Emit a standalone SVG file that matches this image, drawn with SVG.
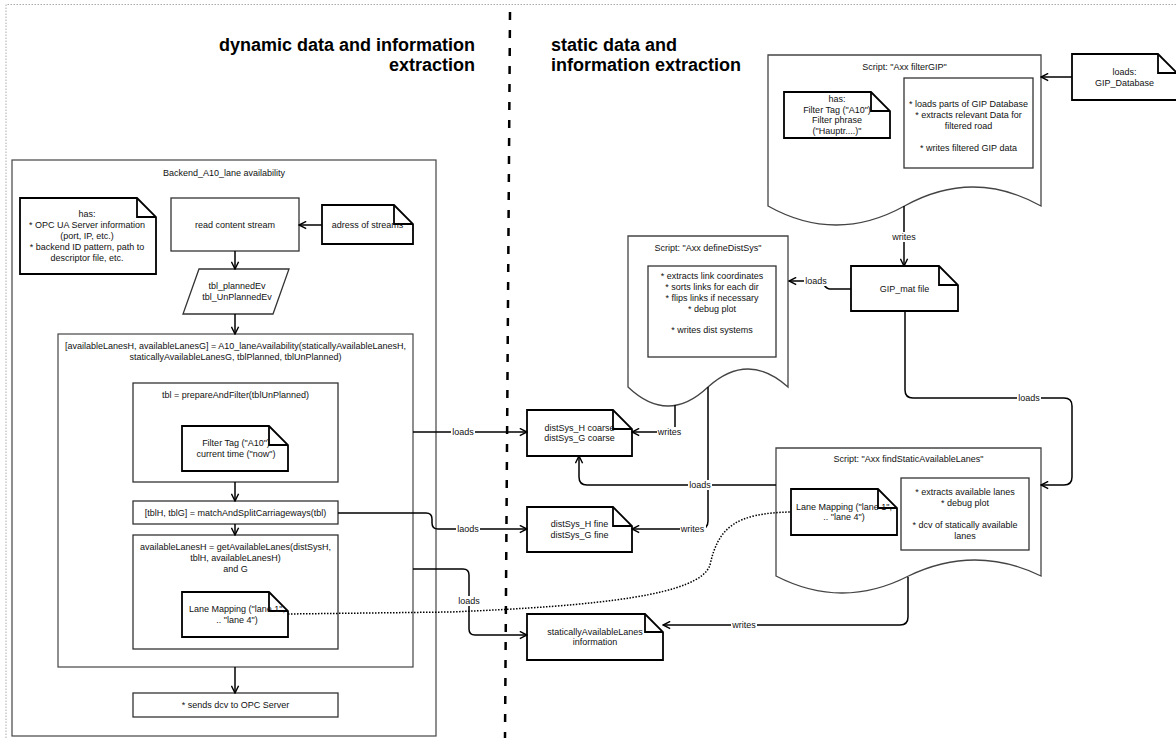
<svg xmlns="http://www.w3.org/2000/svg" width="1176" height="738" viewBox="0 0 1176 738">
  <defs>
    <marker id="arr" viewBox="0 0 10 10" refX="9" refY="5" markerWidth="9" markerHeight="9" markerUnits="userSpaceOnUse" orient="auto">
      <path d="M1,1 L9,5 L1,9" fill="none" stroke="#000" stroke-width="1.6" stroke-linejoin="miter"/>
    </marker>
  </defs>
  <style>
    text { font-family: "Liberation Sans", Arial, sans-serif; font-size: 9px; fill: #111; dominant-baseline: central; text-anchor: middle; }
    .title { font-size: 18px; font-weight: bold; fill: #000; dominant-baseline: alphabetic; }
    .title.end { text-anchor: end; }
    .title.start { text-anchor: start; }
    .box { fill: #fff; stroke: #333; stroke-width: 1.3; }
    .cont { fill: #fff; stroke: #444; stroke-width: 1.2; }
    .note { fill: #fff; stroke: #000; stroke-width: 1.8; stroke-linejoin: miter; }
    .fold { fill: none; stroke: #000; stroke-width: 1.8; }
    .doc { fill: #fff; stroke: #444; stroke-width: 1.3; }
    .edge { fill: none; stroke: #000; stroke-width: 1.5; marker-end: url(#arr); }
    .dotted { fill: none; stroke: #000; stroke-width: 1.5; stroke-dasharray: 1.5 1.5; }
    .lblbg { fill: #fff; }
  </style>

  <rect width="1176" height="738" fill="#fff"/>

  <!-- page frame and divider -->
  <path d="M6,738 V4.5 H1176" fill="none" stroke="#aaa" stroke-width="1" stroke-dasharray="1.5 1.5"/>
  <line x1="510" y1="12" x2="505" y2="738" stroke="#000" stroke-width="2.5" stroke-dasharray="8 10"/>

  <!-- section headings -->
  <text class="title end" x="475" y="51">dynamic data and information</text>
  <text class="title end" x="475" y="71">extraction</text>
  <text class="title start" x="551" y="51">static data and</text>
  <text class="title start" x="551" y="71">information extraction</text>

  <!-- dynamic side -->
  <g id="backend">
    <rect class="cont" x="12" y="160" width="424" height="576"/>
    <text x="224" y="173">Backend_A10_lane availability</text>
  </g>
  <g id="backend-config">
    <path class="note" d="M20,198 H137 L156,217 V274 H20 Z"/>
    <path class="fold" d="M137,198 V217 H156"/>
    <text x="87" y="214.4">has:</text>
    <text x="87" y="225.2">* OPC UA Server information</text>
    <text x="87" y="236">(port, IP, etc.)</text>
    <text x="87" y="246.8">* backend ID pattern, path to</text>
    <text x="87" y="257.6">descriptor file, etc.</text>
  </g>
  <g id="read-stream">
    <rect class="box" x="171" y="198" width="128" height="53"/>
    <text x="235" y="225">read content stream</text>
  </g>
  <g id="stream-address">
    <path class="note" d="M322,205 H394 L413,224 V244 H322 Z"/>
    <path class="fold" d="M394,205 V224 H413"/>
    <text x="367.5" y="225">adress of streams</text>
  </g>
  <g id="event-tables">
    <path class="box" d="M199,269 H289 L273,314 H183 Z"/>
    <text x="237" y="286">tbl_plannedEv</text>
    <text x="237" y="297">tbl_UnPlannedEv</text>
  </g>
  <g id="lane-availability">
    <rect class="cont" x="58" y="334" width="355" height="333"/>
    <text x="235.5" y="346">[availableLanesH, availableLanesG] = A10_laneAvailability(staticallyAvailableLanesH,</text>
    <text x="235.5" y="357">staticallyAvailableLanesG, tblPlanned, tblUnPlanned)</text>
  </g>
  <g id="prepare-filter">
    <rect class="box" x="133" y="383" width="205" height="99"/>
    <text x="235.5" y="395">tbl = prepareAndFilter(tblUnPlanned)</text>
  </g>
  <g id="filter-tag">
    <path class="note" d="M182,426 H269 L288,445 V471 H182 Z"/>
    <path class="fold" d="M269,426 V445 H288"/>
    <text x="236" y="443.1">Filter Tag ("A10")</text>
    <text x="236" y="453.9">current time ("now")</text>
  </g>
  <g id="match-split">
    <rect class="box" x="133" y="501" width="205" height="23"/>
    <text x="235.5" y="512.5">[tblH, tblG] = matchAndSplitCarriageways(tbl)</text>
  </g>
  <g id="get-available">
    <rect class="box" x="133" y="535" width="205" height="114"/>
    <text x="235.5" y="547">availableLanesH = getAvailableLanes(distSysH,</text>
    <text x="235.5" y="558">tblH, availableLanesH)</text>
    <text x="235.5" y="569">and G</text>
  </g>
  <g id="lane-mapping-dyn">
    <path class="note" d="M182,592 H269 L288,611 V637 H182 Z"/>
    <path class="fold" d="M269,592 V611 H288"/>
    <text x="237" y="609">Lane Mapping ("lane 1",</text>
    <text x="237" y="620">.. "lane 4")</text>
  </g>
  <g id="send-dcv">
    <rect class="box" x="133" y="693" width="205" height="24"/>
    <text x="235.5" y="705">* sends dcv to OPC Server</text>
  </g>

  <!-- static side -->
  <g id="filter-gip">
    <path class="doc" d="M768,55 H1041 V206 Q973,168 904.5,206 Q836,244 768,206 Z"/>
    <text x="904.5" y="67">Script: "Axx filterGIP"</text>
    <rect class="box" x="904" y="78" width="129" height="90"/>
    <text x="968.5" y="104">* loads parts of GIP Database</text>
    <text x="968.5" y="115">* extracts relevant Data for</text>
    <text x="968.5" y="126">filtered road</text>
    <text x="968.5" y="148">* writes filtered GIP data</text>
  </g>
  <g id="filter-gip-config">
    <path class="note" d="M784,92 H871 L890,111 V138 H784 Z"/>
    <path class="fold" d="M871,92 V111 H890"/>
    <text x="837" y="98.8">has:</text>
    <text x="837" y="109.6">Filter Tag ("A10")</text>
    <text x="837" y="120.4">Filter phrase</text>
    <text x="837" y="131.2">("Hauptr....)"</text>
  </g>
  <g id="gip-database">
    <path class="note" d="M1072,54 H1158 L1177,73 V100 H1072 Z"/>
    <path class="fold" d="M1158,54 V73 H1177"/>
    <text x="1124.5" y="72">loads:</text>
    <text x="1124.5" y="83">GIP_Database</text>
  </g>
  <g id="gip-mat">
    <path class="note" d="M851,266 H939 L958,285 V311 H851 Z"/>
    <path class="fold" d="M939,266 V285 H958"/>
    <text x="904.5" y="288.5">GIP_mat file</text>
  </g>
  <g id="define-dist-sys">
    <path class="doc" d="M628,236 H788 V387 Q748,351 708,387 Q668,425 628,387 Z"/>
    <text x="708" y="248">Script: "Axx defineDistSys"</text>
    <rect class="box" x="648" y="266" width="128" height="91"/>
    <text x="712" y="276">* extracts link coordinates</text>
    <text x="712" y="287">* sorts links for each dir</text>
    <text x="712" y="298">* flips links if necessary</text>
    <text x="712" y="308.5">* debug plot</text>
    <text x="712" y="329.5">* writes dist systems</text>
  </g>
  <g id="dist-coarse">
    <path class="note" d="M527,410 H613 L632,429 V456 H527 Z"/>
    <path class="fold" d="M613,410 V429 H632"/>
    <text x="579.5" y="427.6">distSys_H coarse</text>
    <text x="579.5" y="438.4">distSys_G coarse</text>
  </g>
  <g id="dist-fine">
    <path class="note" d="M527,507 H613 L632,526 V552 H527 Z"/>
    <path class="fold" d="M613,507 V526 H632"/>
    <text x="579.5" y="524">distSys_H fine</text>
    <text x="579.5" y="535">distSys_G fine</text>
  </g>
  <g id="static-lanes">
    <path class="note" d="M527,614 H645 L663,632 V660 H527 Z"/>
    <path class="fold" d="M645,614 V632 H663"/>
    <text x="595" y="631.6">staticallyAvailableLanes</text>
    <text x="595" y="642.4">information</text>
  </g>
  <g id="find-static-lanes">
    <path class="doc" d="M776,448 H1041 V576 Q975,544 908.5,576 Q842,610 776,576 Z"/>
    <text x="908.5" y="459">Script: "Axx findStaticAvailableLanes"</text>
    <rect class="box" x="901" y="478" width="128" height="72"/>
    <text x="965" y="492.4">* extracts available lanes</text>
    <text x="965" y="503.2">* debug plot</text>
    <text x="965" y="524.8">* dcv of statically available</text>
    <text x="965" y="535.6">lanes</text>
  </g>
  <g id="lane-mapping-static">
    <path class="note" d="M791,489 H878 L897,508 V535 H791 Z"/>
    <path class="fold" d="M878,489 V508 H897"/>
    <text x="844" y="506.6">Lane Mapping ("lane 1",</text>
    <text x="844" y="517.4">.. "lane 4")</text>
  </g>

  <!-- connectors -->
  <g id="connectors">
    <path class="edge" d="M235,251 V269"/>
    <path class="edge" d="M235,314 V334"/>
    <path class="edge" d="M235,482 V501"/>
    <path class="edge" d="M235,524 V535"/>
    <path class="edge" d="M235,667 V693"/>
    <path class="edge" d="M322,225 H299"/>

    <path class="edge" d="M413,432 H527"/>
    <path class="edge" d="M338,513 H426 Q432,513 432,519 V523 Q432,529 438,529 H527"/>
    <path class="edge" d="M413,569 H463 Q469,569 469,575 V629 Q469,635 475,635 H527"/>

    <path class="edge" d="M1072,77 H1041"/>
    <path class="edge" d="M904,206 V266"/>
    <path class="edge" d="M851,289 H830 C824,289 824,281 818,281 H789"/>
    <path class="edge" d="M905,311 V390 Q905,398 913,398 H1064 Q1072,398 1072,406 V477 Q1072,485 1064,485 H1041"/>
    <path class="edge" d="M776,485 H587 Q579,485 579,477 V456"/>
    <path class="edge" d="M675,405 V432 H632"/>
    <path class="edge" d="M708,387 V521 Q708,529 700,529 H632"/>
    <path class="edge" d="M908,577 V617 Q908,625 900,625 H663"/>

    <path class="dotted" d="M288,614 L450,612 C600,606 700,595 710,565 C718,528 735,513 791,512"/>

    <!-- connector labels -->
    <rect class="lblbg" x="451" y="427" width="24" height="10"/>
    <text x="463" y="432">loads</text>
    <rect class="lblbg" x="456" y="524" width="24" height="10"/>
    <text x="468" y="529">laods</text>
    <rect class="lblbg" x="457" y="596" width="24" height="10"/>
    <text x="469" y="601">loads</text>
    <rect class="lblbg" x="657" y="427" width="26" height="10"/>
    <text x="669.5" y="432">writes</text>
    <rect class="lblbg" x="680" y="524" width="26" height="10"/>
    <text x="692.5" y="529">writes</text>
    <rect class="lblbg" x="688" y="480" width="24" height="10"/>
    <text x="700" y="485">loads</text>
    <rect class="lblbg" x="731" y="620" width="26" height="10"/>
    <text x="744" y="625">writes</text>
    <rect class="lblbg" x="891" y="232" width="26" height="10"/>
    <text x="904" y="237">writes</text>
    <rect class="lblbg" x="804" y="276" width="24" height="10"/>
    <text x="816" y="281">loads</text>
    <rect class="lblbg" x="1017" y="393" width="24" height="10"/>
    <text x="1029" y="398">loads</text>
  </g>
</svg>
